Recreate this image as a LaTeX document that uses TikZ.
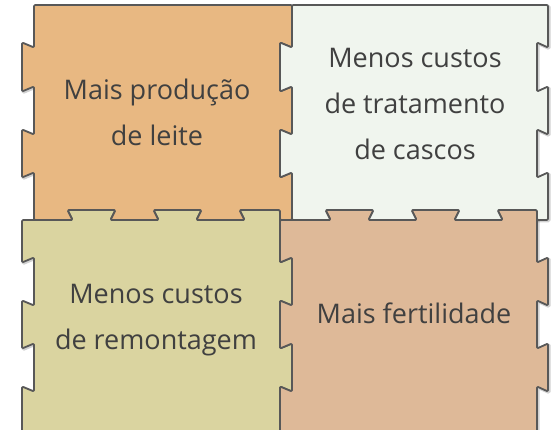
\documentclass[tikz,border=0pt]{standalone}
\usepackage{fontspec}
\setmainfont{Open Sans}
\definecolor{tileA}{RGB}{232,184,130}
\definecolor{tileB}{RGB}{240,245,238}
\definecolor{tileC}{RGB}{218,212,160}
\definecolor{tileD}{RGB}{222,185,152}
\definecolor{edgegray}{RGB}{88,88,88}
\definecolor{txtgray}{RGB}{64,64,64}
\begin{document}
\begin{tikzpicture}[x=1pt,y=-1pt,
  tile/.style={draw=edgegray, line width=1.8pt, rounded corners=1.2pt, line join=round},
  shade/.style={draw=black, opacity=0.18, line width=3pt, rounded corners=1.2pt, fill=none},
  tilelabel/.style={text=txtgray, align=center, inner sep=0pt, font=\fontsize{27}{46}\selectfont}]
\useasboundingbox (0,0) rectangle (556,430);
\begin{scope}
\clip (0,0) rectangle (556,430);
% tile 3 (bottom left)
\def\pathC{(22,220) -- (72.5,220) -- (67.5,210) -- (115.5,210) -- (110.5,220) -- (158.5,220) -- (153.5,210) -- (201.5,210) -- (196.5,220) -- (244.5,220) -- (239.5,210) -- (280,210) -- (280,262.5) -- (292,257.5) -- (292,305.5) -- (280,300.5) -- (280,348.5) -- (292,343.5) -- (292,391.5) -- (280,386.5) -- (280,440) -- (22,440) -- (22,386.5) -- (34,391.5) -- (34,343.5) -- (22,348.5) -- (22,300.5) -- (34,305.5) -- (34,257.5) -- (22,262.5) -- cycle}
% tile 4 (bottom right)
\def\pathD{(280,220) -- (330.5,220) -- (325.5,210) -- (373.5,210) -- (368.5,220) -- (416.5,220) -- (411.5,210) -- (459.5,210) -- (454.5,220) -- (502.5,220) -- (497.5,210) -- (537,210) -- (537,262.5) -- (548,257.5) -- (548,305.5) -- (537,300.5) -- (537,348.5) -- (548,343.5) -- (548,391.5) -- (537,386.5) -- (537,440) -- (280,440) -- (280,386.5) -- (292,391.5) -- (292,343.5) -- (280,348.5) -- (280,300.5) -- (292,305.5) -- (292,257.5) -- (280,262.5) -- cycle}
% tile 1 (top left)
\def\pathA{(34,5) -- (292,5) -- (292,47.5) -- (280,42.5) -- (280,91.5) -- (292,86.5) -- (292,134.5) -- (280,129.5) -- (280,177.5) -- (292,172.5) -- (292,220) -- (280,220) -- (280,210) -- (239.5,210) -- (244.5,220) -- (196.5,220) -- (201.5,210) -- (153.5,210) -- (158.5,220) -- (110.5,220) -- (115.5,210) -- (67.5,210) -- (72.5,220) -- (34,220) -- (34,172.5) -- (22,177.5) -- (22,129.5) -- (34,134.5) -- (34,86.5) -- (22,91.5) -- (22,42.5) -- (34,47.5) -- cycle}
% tile 2 (top right)
\def\pathB{(292,5) -- (548,5) -- (548,47.5) -- (537,42.5) -- (537,91.5) -- (548,86.5) -- (548,134.5) -- (537,129.5) -- (537,177.5) -- (548,172.5) -- (548,220) -- (537,220) -- (537,210) -- (497.5,210) -- (502.5,220) -- (454.5,220) -- (459.5,210) -- (411.5,210) -- (416.5,220) -- (368.5,220) -- (373.5,210) -- (325.5,210) -- (330.5,220) -- (292,220) -- (292,172.5) -- (280,177.5) -- (280,129.5) -- (292,134.5) -- (292,86.5) -- (280,91.5) -- (280,42.5) -- (292,47.5) -- cycle}
\begin{scope}[shift={(1,1)}]
\draw[shade] \pathC; \draw[shade] \pathD; \draw[shade] \pathA; \draw[shade] \pathB;
\end{scope}
\draw[tile, fill=tileC] \pathC;
\draw[tile, fill=tileD] \pathD;
\draw[tile, fill=tileA] \pathA;
\draw[tile, fill=tileB] \pathB;
\end{scope}
\node[tilelabel] (t1) at (157,112) {Mais produção\\de leite};
\node[tilelabel] (t2) at (415,104) {Menos custos\\de tratamento\\de cascos};
\node[tilelabel] (t3) at (156,320) {Menos custos\\de remontagem};
\node[tilelabel] (t4) at (414,313) {Mais fertilidade};
\end{tikzpicture}
\end{document}
